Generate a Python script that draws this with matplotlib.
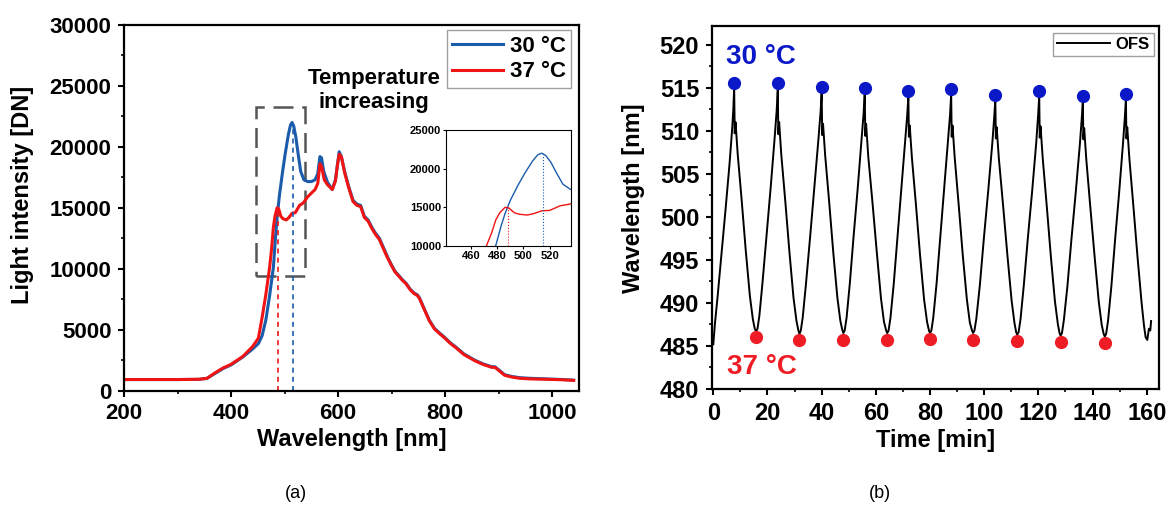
import matplotlib
matplotlib.use("Agg")
import matplotlib.pyplot as plt
from matplotlib.ticker import MultipleLocator
from matplotlib.patches import Rectangle

plt.rcParams['font.family'] = ['Liberation Sans', 'DejaVu Sans']
plt.rcParams['font.weight'] = 'bold'
plt.rcParams['axes.labelweight'] = 'bold'

# ---------------- data: panel (a) spectra ----------------
wl_30 = [200, 250, 300, 340, 355, 370, 385, 400, 422, 440, 451, 458, 465, 472, 479, 483,
         486, 490, 496, 501, 507, 511, 514, 517, 521, 525, 530, 536, 543, 550, 557, 562,
         566, 569, 573, 580, 589, 595, 598, 602, 606, 612, 620, 628, 635, 642, 649, 656,
         663, 670, 677, 684, 691, 698, 706, 714, 720, 727, 735, 742, 748, 752, 760, 770,
         780, 790, 798, 810, 819, 835, 855, 870, 887, 893, 900, 911, 925, 940, 960, 990,
         1020, 1040]
int_30 = [900, 900, 900, 920, 1000, 1400, 1800, 2100, 2750, 3400, 3850, 4500, 5800, 7800, 10100, 12600,
          14200, 15900, 17900, 19400, 21000, 21800, 22000, 21700, 20800, 19500, 18000, 17300, 17150, 17150, 17300, 17800,
          19200, 19100, 18000, 17100, 16500, 17300, 18300, 19600, 19200, 18000, 16700, 15600, 15300, 15200, 14300, 14000,
          13400, 12900, 12500, 11800, 11100, 10450, 9800, 9400, 9100, 8800, 8300, 8000, 7850, 7600, 6800, 5800,
          5100, 4700, 4400, 3900, 3600, 3000, 2500, 2200, 1950, 1950, 1700, 1300, 1150, 1050, 1000, 950,
          900, 850]

wl_37 = [200, 250, 300, 340, 355, 370, 385, 400, 422, 440, 451, 458, 465, 472, 476, 479,
         482, 486, 489, 493, 497, 503, 508, 514, 520, 528, 535, 543, 550, 557, 562, 566,
         569, 574, 580, 589, 595, 598, 602, 606, 612, 620, 628, 635, 642, 649, 656, 663,
         670, 677, 684, 691, 698, 706, 714, 720, 727, 735, 742, 748, 752, 760, 770, 780,
         790, 798, 810, 819, 835, 855, 870, 887, 893, 900, 911, 925, 940, 960, 990, 1020,
         1040]
int_37 = [900, 900, 900, 920, 1000, 1450, 1850, 2150, 2800, 3600, 4300, 6000, 7900, 10100, 11800, 13400,
          14300, 15000, 14900, 14300, 14100, 14000, 14200, 14550, 14600, 15200, 15400, 15900, 16200, 16500, 17000, 18600,
          18400, 17300, 16900, 16500, 17200, 18300, 19400, 19200, 17900, 16600, 15500, 15200, 15100, 14200, 13900, 13300,
          12800, 12400, 11700, 11000, 10400, 9750, 9350, 9050, 8750, 8250, 7950, 7800, 7550, 6750, 5750, 5050,
          4650, 4350, 3850, 3550, 2950, 2450, 2150, 1900, 1900, 1650, 1250, 1100, 1000, 950, 920, 880,
          830]

peak_30 = 515
peak_37 = 488

# ---------------- data: panel (b) OFS wavelength ----------------
ofs_time = [0, 0.6, 1.6, 3.0, 4.5, 6.0, 7.0, 7.4, 7.7,
            7.9, 8.2, 9.0, 10.5, 12.0, 13.5, 14.6, 15.3, 15.8,
            16.3, 17.0, 18.2, 19.7, 21.2, 22.6, 23.4, 23.8,
            24.0, 24.3, 25.1, 26.6, 28.1, 29.6, 30.7, 31.4, 31.8,
            32.3, 33.0, 34.2, 35.8, 37.3, 38.8, 39.6, 40.0,
            40.2, 40.5, 41.3, 42.8, 44.3, 45.8, 46.9, 47.6, 48.0,
            48.5, 49.2, 50.4, 51.8, 53.3, 54.7, 55.5, 55.9,
            56.1, 56.4, 57.2, 58.8, 60.4, 61.9, 63.0, 63.8, 64.2,
            64.7, 65.4, 66.6, 68.0, 69.4, 70.8, 71.6, 72.0,
            72.2, 72.5, 73.3, 74.8, 76.3, 77.8, 78.9, 79.6, 80.0,
            80.5, 81.2, 82.4, 83.8, 85.2, 86.6, 87.4, 87.8,
            88.0, 88.3, 89.1, 90.6, 92.1, 93.6, 94.7, 95.5, 95.9,
            96.4, 97.1, 98.4, 99.9, 101.5, 103.0, 103.7, 104.1,
            104.3, 104.6, 105.4, 107.0, 108.6, 110.1, 111.2, 111.8, 112.2,
            112.7, 113.4, 114.6, 116.1, 117.7, 119.2, 119.9, 120.3,
            120.5, 120.8, 121.6, 123.1, 124.6, 126.1, 127.2, 127.8, 128.2,
            128.7, 129.4, 130.7, 132.2, 133.8, 135.3, 136.0, 136.4,
            136.6, 136.9, 137.7, 139.2, 140.8, 142.3, 143.4, 144.1, 144.5,
            145.0, 145.7, 146.9, 148.3, 149.8, 151.2, 151.9, 152.3,
            152.5, 152.8, 153.6, 155.1, 156.6, 158.1, 159.0, 159.6, 160.2, 160.8, 161.3, 161.6]
ofs_wl = [485.2, 487.6, 490.8, 495.6, 500.8, 506.2, 510.4, 512.6, 515.0,
          509.7, 511.0, 507.3, 501.8, 496.0, 490.8, 488.1, 487.0, 486.7,
          487.0, 488.5, 492.5, 498.0, 503.5, 509.0, 512.4, 514.9,
          509.6, 511.0, 507.2, 501.7, 495.9, 490.6, 487.9, 486.8, 486.4,
          486.8, 488.3, 492.2, 497.9, 503.4, 509.0, 512.2, 514.5,
          509.5, 510.8, 507.1, 501.6, 495.8, 490.6, 487.9, 486.9, 486.5,
          486.8, 488.3, 492.3, 497.8, 503.3, 508.8, 512.1, 514.4,
          509.4, 510.8, 507.0, 501.5, 495.7, 490.5, 487.8, 486.8, 486.5,
          486.8, 488.3, 492.2, 497.7, 503.2, 508.7, 511.9, 514.0,
          509.3, 510.6, 506.9, 501.4, 495.6, 490.4, 487.8, 486.8, 486.5,
          486.8, 488.3, 492.2, 497.7, 503.2, 508.7, 511.9, 514.2,
          509.3, 510.6, 506.9, 501.3, 495.5, 490.4, 487.7, 486.8, 486.5,
          486.8, 488.2, 492.1, 497.6, 503.1, 508.6, 511.6, 513.6,
          509.1, 510.4, 506.8, 501.2, 495.4, 490.3, 487.6, 486.6, 486.3,
          486.6, 488.1, 492.0, 497.5, 503.0, 508.6, 511.8, 514.0,
          509.2, 510.5, 506.8, 501.2, 495.4, 490.2, 487.5, 486.5, 486.2,
          486.5, 488.0, 491.9, 497.4, 502.9, 508.4, 511.4, 513.4,
          509.0, 510.3, 506.6, 501.0, 495.2, 490.1, 487.4, 486.4, 486.1,
          486.4, 487.9, 491.8, 497.3, 502.8, 508.4, 511.5, 513.7,
          509.1, 510.4, 506.7, 501.1, 495.3, 490.0, 487.3, 486.0, 485.7, 487.0, 486.8, 487.9]

peak_time = [7.7, 23.8, 40.0, 55.9, 72.0, 87.8, 104.1, 120.3, 136.4, 152.3]
peak_wl = [515.6, 515.5, 515.1, 515.0, 514.6, 514.8, 514.2, 514.6, 514.0, 514.3]
valley_time = [15.8, 31.8, 48.0, 64.2, 80.0, 95.9, 112.2, 128.2, 144.5]
valley_wl = [486.0, 485.7, 485.75, 485.75, 485.8, 485.75, 485.6, 485.5, 485.4]

BLUE = '#1a5cab'
RED = '#f01414'
DOT_BLUE = '#0b18c8'
DOT_RED = '#ee1c24'

fig = plt.figure(figsize=(11.69, 5.16), dpi=100)

def style_axes(ax, fs):
    for s in ax.spines.values():
        s.set_linewidth(1.6)
    ax.tick_params(which='major', direction='out', length=4, width=1.5, labelsize=fs, pad=5)
    ax.tick_params(which='minor', direction='out', length=2.5, width=1.2)
    ax.tick_params(top=False, right=False, which='both')

# ---------------- panel (a) ----------------
axa = fig.add_axes([0.1061, 0.2432, 0.3892, 0.7083])
axa.plot(wl_30, int_30, color=BLUE, lw=2.2, label='30 \u00b0C')
axa.plot(wl_37, int_37, color=RED, lw=2.2, label='37 \u00b0C')
axa.plot([peak_30, peak_30], [0, 21900], color=BLUE, lw=1.2, ls=(0, (3, 2.5)))
axa.plot([peak_37, peak_37], [0, 15000], color=RED, lw=1.2, ls=(0, (3, 2.5)))
axa.add_patch(Rectangle((447, 9400), 92, 13850, fill=False, ec='#555555', lw=1.8,
                        ls=(0, (8, 3.5))))
axa.set_xlim(200, 1050)
axa.set_ylim(0, 30000)
axa.xaxis.set_major_locator(MultipleLocator(200))
axa.xaxis.set_minor_locator(MultipleLocator(100))
axa.yaxis.set_major_locator(MultipleLocator(5000))
axa.yaxis.set_minor_locator(MultipleLocator(2500))
style_axes(axa, 16)
axa.set_xlabel('Wavelength [nm]', fontsize=17, labelpad=3)
axa.set_ylabel('Light intensity [DN]', fontsize=17)
axa.yaxis.set_label_coords(-0.198, 0.535)
axa.text(667, 24600, 'Temperature\nincreasing', fontsize=16, ha='center', va='center',
         linespacing=1.2)
leg = axa.legend(loc='upper right', bbox_to_anchor=(0.9835, 0.9855), fontsize=16,
                 frameon=True, fancybox=False, edgecolor='#888888', handlelength=2.3,
                 handletextpad=0.3, borderpad=0.25, labelspacing=0.2, borderaxespad=0)
leg.get_frame().set_linewidth(1.0)

# inset
axi = fig.add_axes([0.3815, 0.5233, 0.1067, 0.2248])
axi.plot(wl_30, int_30, color=BLUE, lw=1.0)
axi.plot(wl_37, int_37, color=RED, lw=1.0)
axi.plot([peak_30, peak_30], [10000, 21950], color=BLUE, lw=0.8, ls=':')
axi.plot([peak_37, peak_37], [10000, 15100], color=RED, lw=0.8, ls=':')
axi.set_xlim(441, 536)
axi.set_ylim(10000, 25000)
axi.set_xticks([460, 480, 500, 520])
axi.set_yticks([10000, 15000, 20000, 25000])
for s in axi.spines.values():
    s.set_linewidth(0.8)
axi.tick_params(direction='out', length=2, width=0.8, labelsize=8, pad=1.5)

# ---------------- panel (b) ----------------
axb = fig.add_axes([0.6088, 0.2461, 0.3826, 0.7041])
axb.plot(ofs_time, ofs_wl, color='black', lw=1.4, label='OFS')
axb.plot(peak_time, peak_wl, 'o', color=DOT_BLUE, ms=8.5, zorder=3)
axb.plot(valley_time, valley_wl, 'o', color=DOT_RED, ms=8.5, zorder=3)
axb.set_xlim(-0.6, 164.5)
axb.set_ylim(480, 522.2)
axb.xaxis.set_major_locator(MultipleLocator(20))
axb.xaxis.set_minor_locator(MultipleLocator(10))
axb.yaxis.set_major_locator(MultipleLocator(5))
axb.yaxis.set_minor_locator(MultipleLocator(2.5))
style_axes(axb, 17)
axb.set_xlabel('Time [min]', fontsize=17, labelpad=3)
axb.set_ylabel('Wavelength [nm]', fontsize=17)
axb.yaxis.set_label_coords(-0.149, 0.526)
axb.text(17.6, 518.6, '30 \u00b0C', color=DOT_BLUE, fontsize=20, ha='center', va='center')
axb.text(17.8, 482.6, '37 \u00b0C', color=DOT_RED, fontsize=20, ha='center', va='center')
legb = axb.legend(loc='upper right', bbox_to_anchor=(0.988, 0.981), fontsize=12,
                  frameon=True, fancybox=False, edgecolor='#888888', handlelength=3.2,
                  handletextpad=0.3, borderpad=0.25, borderaxespad=0)
legb.get_frame().set_linewidth(1.0)

fig.text(296 / 1169, 1 - 494 / 516, '(a)', fontsize=13, fontweight='normal',
         ha='center', va='center')
fig.text(880 / 1169, 1 - 494 / 516, '(b)', fontsize=13, fontweight='normal',
         ha='center', va='center')

fig.savefig('out.png', dpi=100)
